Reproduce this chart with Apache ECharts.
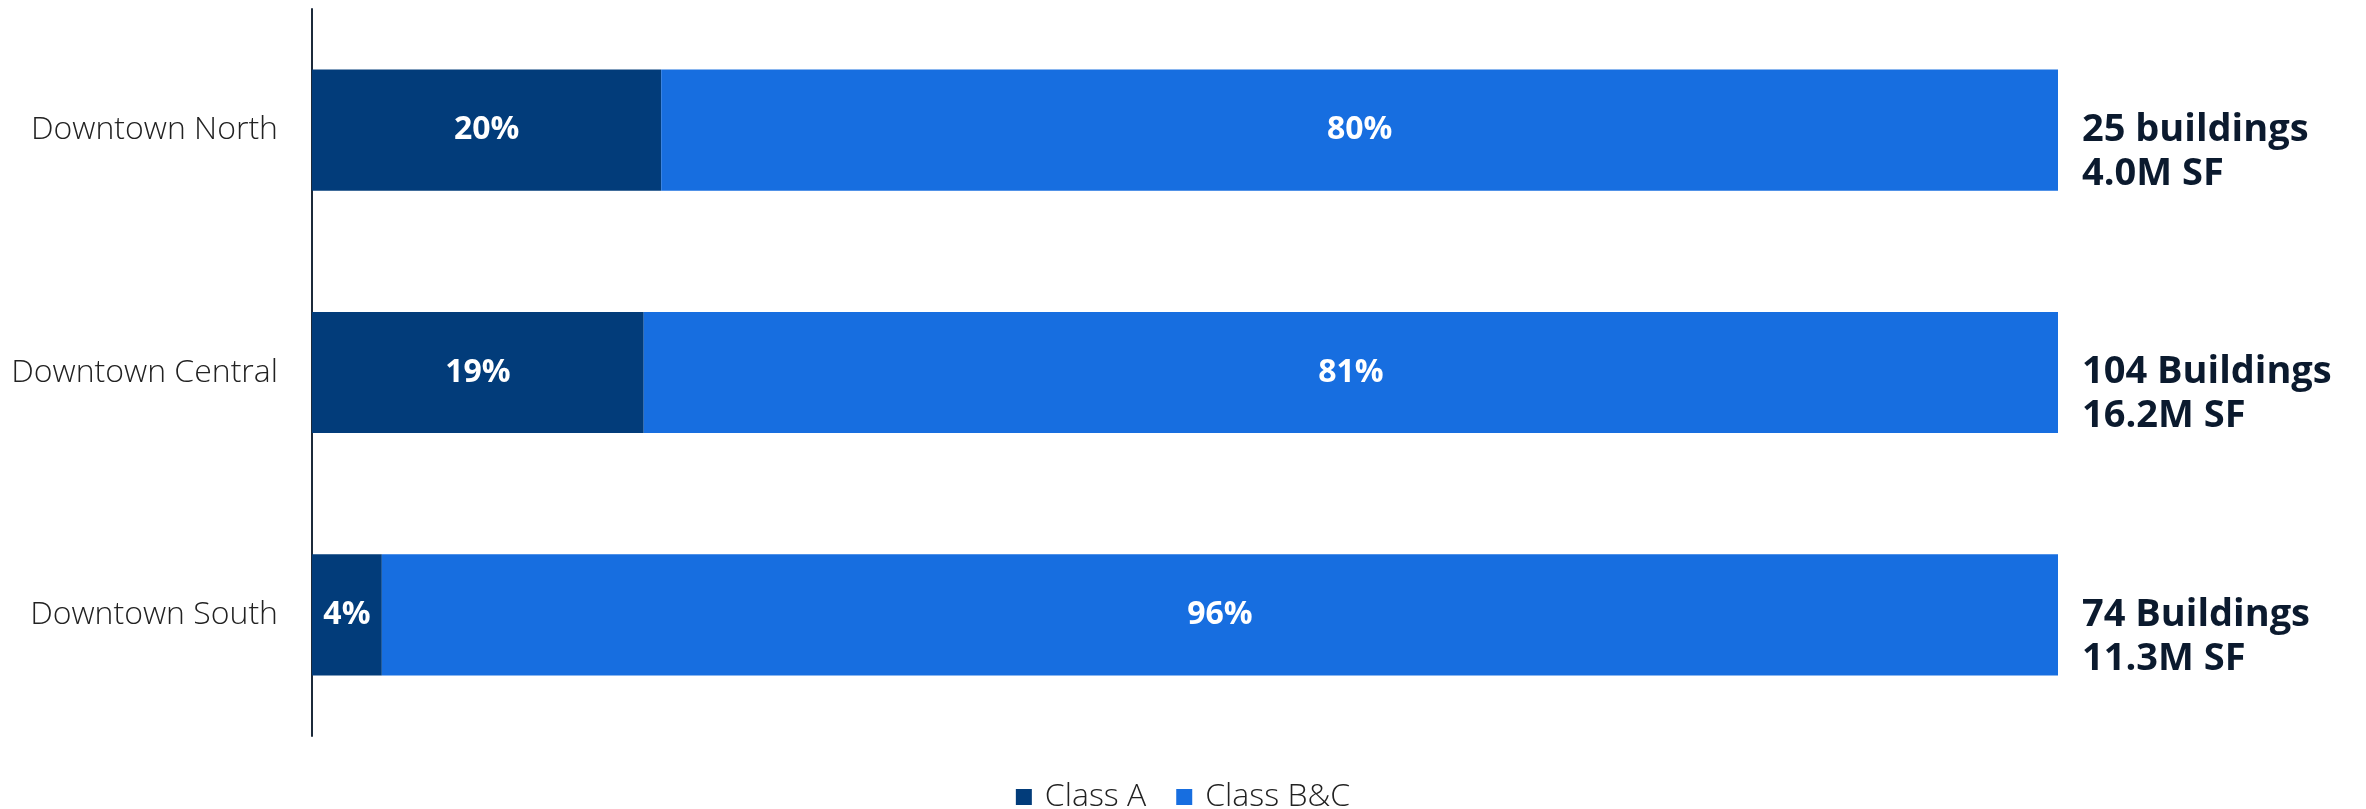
<!DOCTYPE html>
<html>
<head>
<meta charset="utf-8">
<script src="https://cdn.jsdelivr.net/npm/echarts@6/dist/echarts.min.js"></script>
<style>
html,body{margin:0;padding:0;background:#fff;}
#chart{width:2366px;height:809px;}
</style>
</head>
<body>
<div id="chart"></div>
<script>
const categories = ['Downtown North', 'Downtown Central', 'Downtown South'];
const classA = [20, 19, 4];
const classBC = [80, 81, 96];
const buildings = ['25 buildings', '104 Buildings', '74 Buildings'];
const squareFeet = ['4.0M SF', '16.2M SF', '11.3M SF'];

const chart = echarts.init(document.getElementById('chart'));
const FONT = '"Open Sans", "Noto Sans", sans-serif';
chart.setOption({
  animation: false,
  textStyle: { fontFamily: FONT },
  grid: { left: 312, right: 308, top: 9, bottom: 73, containLabel: false },
  legend: {
    top: 776,
    left: 'center',
    itemWidth: 16,
    itemHeight: 16,
    itemGap: 30,
    icon: 'rect',
    textStyle: { fontSize: 32, fontWeight: 300, color: '#222', fontFamily: FONT, padding: [0, 0, 0, 8] },
    data: ['Class A', 'Class B&C']
  },
  xAxis: {
    type: 'value', min: 0, max: 100, show: false
  },
  yAxis: {
    type: 'category',
    data: categories,
    inverse: true,
    axisLine: { show: true, lineStyle: { color: '#1c2a3a', width: 2 } },
    axisTick: { show: false },
    axisLabel: { fontSize: 32, fontWeight: 300, color: '#222', margin: 34, fontFamily: FONT },
    splitLine: { show: false }
  },
  series: [
    {
      name: 'Class A', type: 'bar', stack: 'total', barWidth: '50%',
      data: classA,
      itemStyle: { color: '#023c7a' },
      label: { show: true, position: 'inside', formatter: '{c}%', color: '#fff', fontSize: 32, fontWeight: 'bold', fontFamily: FONT }
    },
    {
      name: 'Class B&C', type: 'bar', stack: 'total', barWidth: '50%',
      data: classBC,
      itemStyle: { color: '#176ee0' },
      label: { show: true, position: 'inside', formatter: '{c}%', color: '#fff', fontSize: 32, fontWeight: 'bold', fontFamily: FONT }
    },
    {
      name: 'info', type: 'bar', stack: 'total', barWidth: '50%',
      data: classBC.map(() => 0),
      itemStyle: { color: 'transparent' },
      silent: true,
      label: {
        show: true, position: 'right', distance: 24, offset: [0, 22],
        formatter: p => buildings[p.dataIndex] + '\n' + squareFeet[p.dataIndex],
        color: '#0b1a2e', fontSize: 38, fontWeight: 'bold', lineHeight: 44, fontFamily: FONT, align: 'left'
      }
    }
  ]
});
</script>
</body>
</html>
